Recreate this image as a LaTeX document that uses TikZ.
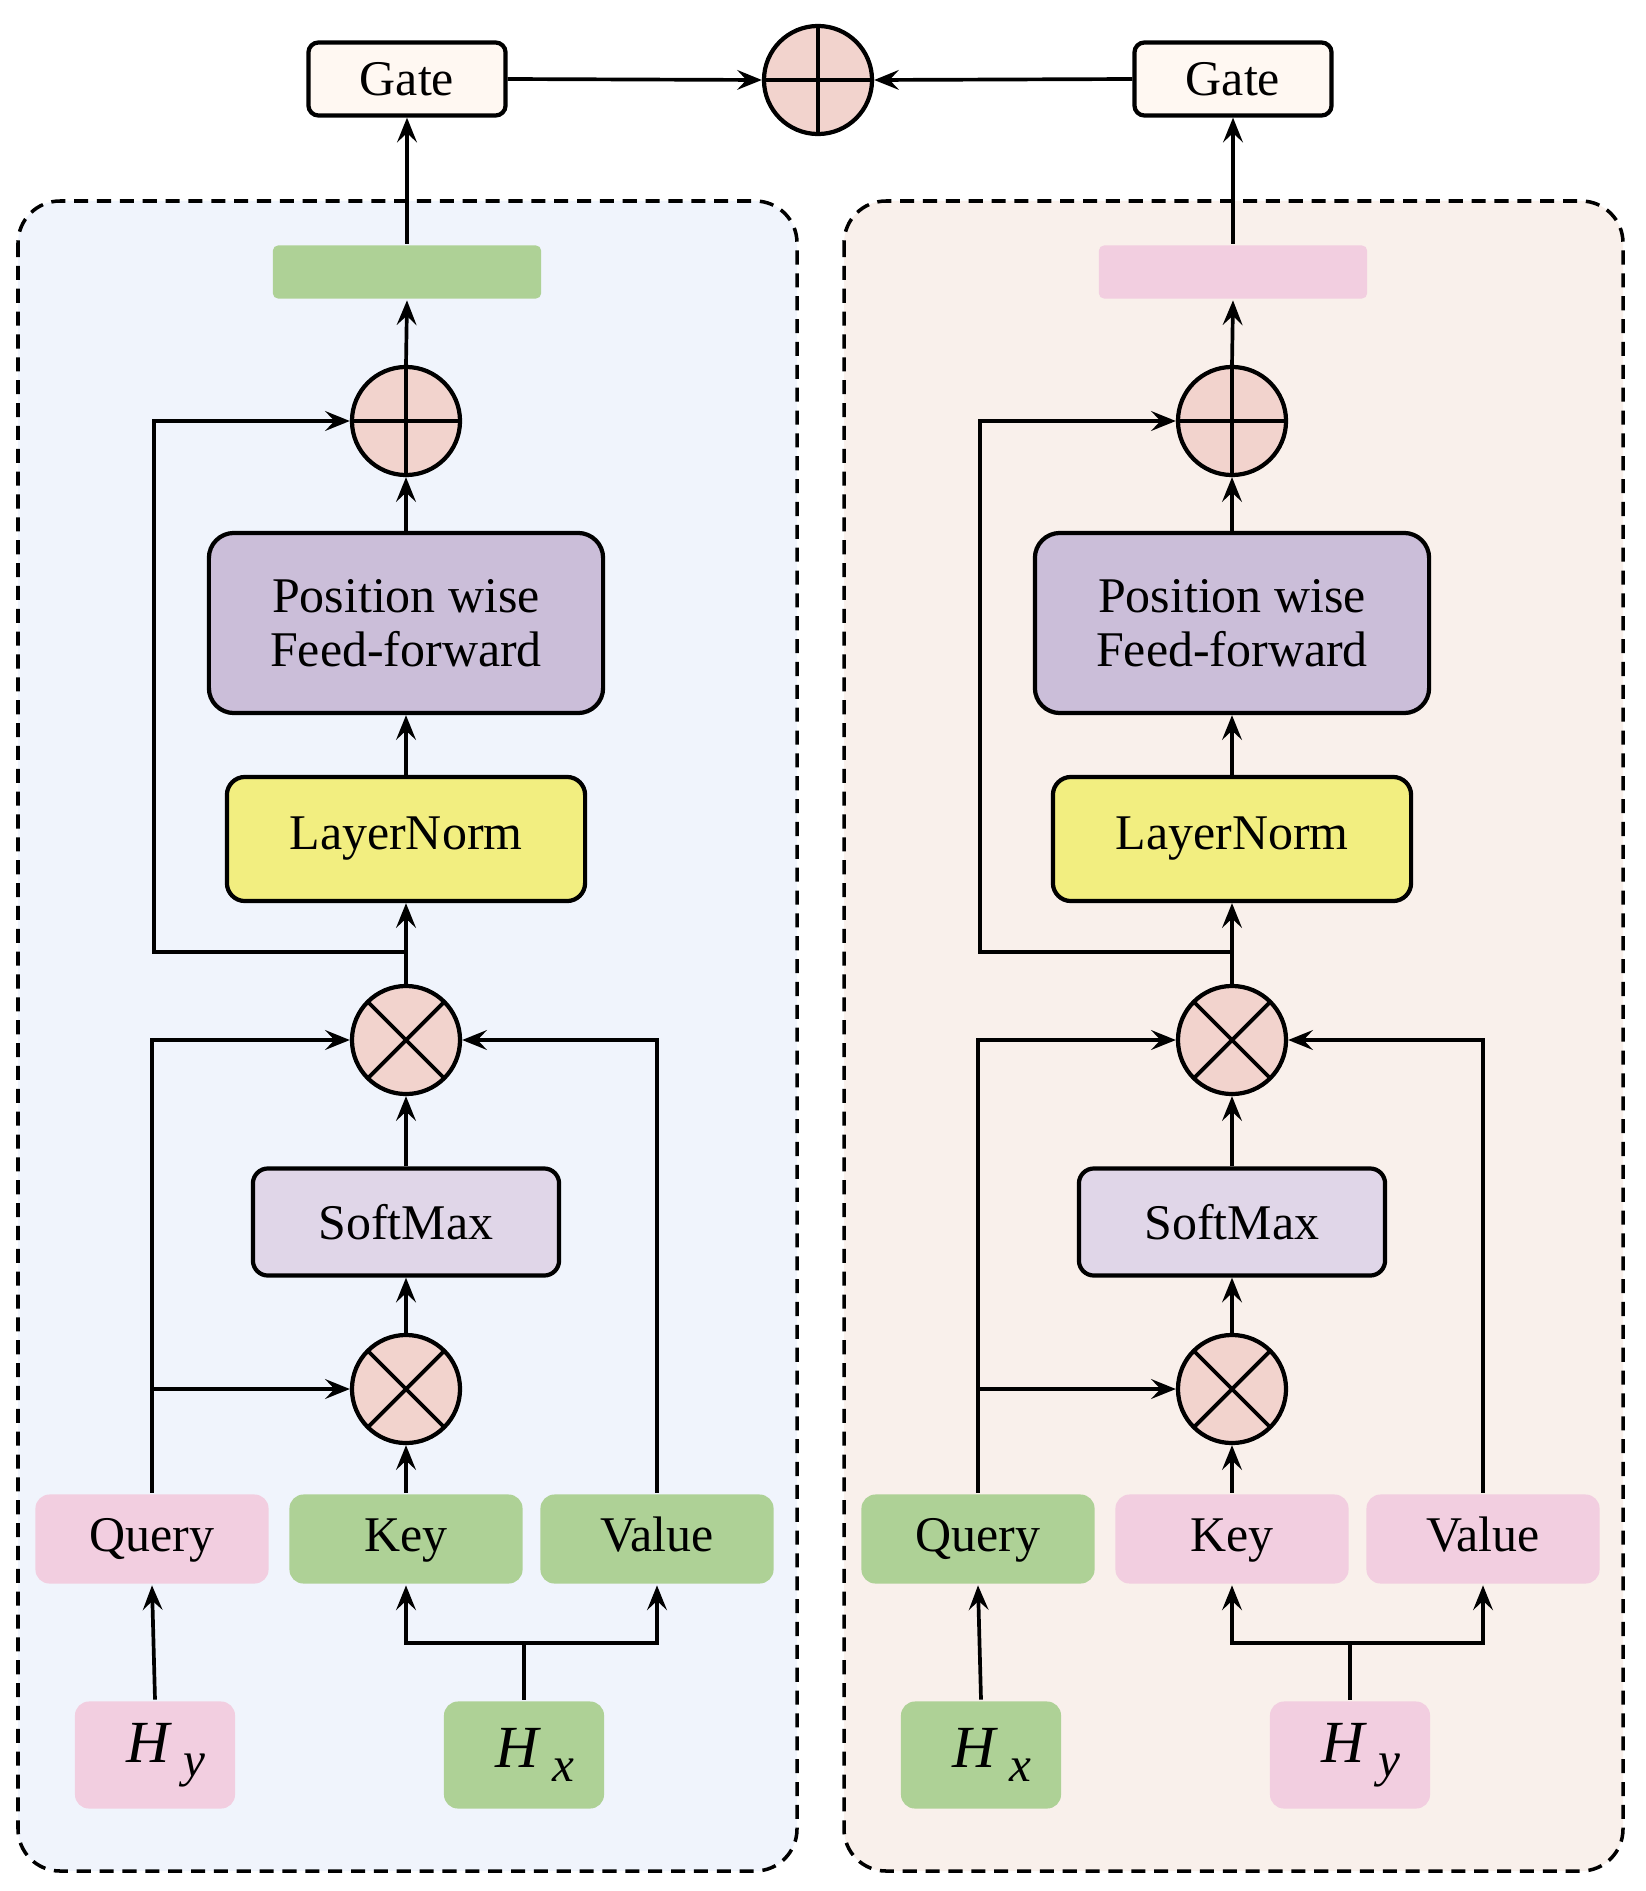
\documentclass[tikz,border=0pt]{standalone}
\usepackage{fontspec}
\setmainfont{Liberation Serif}
\usetikzlibrary{arrows.meta}
\definecolor{bgblue}{HTML}{F0F4FC}
\definecolor{bgpeach}{HTML}{F9F0EB}
\definecolor{kgreen}{HTML}{AED196}
\definecolor{qpink}{HTML}{F2CEE0}
\definecolor{fflila}{HTML}{CBBED9}
\definecolor{smlila}{HTML}{E0D6E8}
\definecolor{lnyellow}{HTML}{F2EE80}
\definecolor{opred}{HTML}{F2D3CD}
\definecolor{gatecream}{HTML}{FFF8F2}
\newcommand{\hsub}[1]{\kern6pt H\kern4pt\raisebox{-4pt}{\fontsize{14}{14}\selectfont #1}}
\tikzset{
  block/.style = {align=center, inner sep=0pt, text centered,
    font=\fontsize{14.2}{15.4}\selectfont},
  box_n/.style = {block, draw=black, line width=1.2pt},% bloc encadre
  gate_n/.style = {box_n, fill=gatecream, minimum width=1.97cm,
    minimum height=0.73cm, rounded corners=0.1cm},
  ff_n/.style = {box_n, fill=fflila, minimum width=3.94cm,
    minimum height=1.8cm, rounded corners=0.25cm},
  ln_n/.style = {box_n, fill=lnyellow, minimum width=3.58cm,
    minimum height=1.24cm, rounded corners=0.18cm},
  sm_n/.style = {box_n, fill=smlila, minimum width=3.06cm,
    minimum height=1.07cm, rounded corners=0.15cm},
  qkv_n/.style = {block, minimum width=2.33cm, minimum height=0.89cm,
    rounded corners=0.14cm, text height=10pt, text depth=3pt},% entrees Q K V
  h_n/.style = {block, minimum width=1.6cm, minimum height=1.07cm,
    rounded corners=0.14cm, font=\fontsize{17}{20}\selectfont\itshape},
  bar_n/.style = {block, minimum width=2.68cm, minimum height=0.53cm,
    rounded corners=0.05cm},
  op_n/.style = {circle, draw=black, line width=1.2pt, fill=opred,
    minimum size=1.08cm, inner sep=0pt},
  add_n/.style = {op_n, path picture={\draw[-, line width=1.1pt]
    (path picture bounding box.north) -- (path picture bounding box.south)
    (path picture bounding box.west) -- (path picture bounding box.east);}},
  mul_n/.style = {op_n, path picture={\draw[-, line width=1.1pt]
    (path picture bounding box.north west) -- (path picture bounding box.south east)
    (path picture bounding box.north east) -- (path picture bounding box.south west);}},
}
\begin{document}
\begin{tikzpicture}[->,>={Stealth[length=7pt,width=5.6pt,inset=2.6pt]},
  x=0.01cm,y=-0.01cm,line width=1.05pt]
\useasboundingbox (0,0) rectangle (1645,1891);

\foreach \p/\dx/\ca/\cb/\bg/\sa/\sb in {L/0/qpink/kgreen/bgblue/y/x,
    R/826/kgreen/qpink/bgpeach/x/y}{
  % cadre
  \draw[-, dash pattern=on 4pt off 2.5pt, line width=1pt, rounded corners=0.42cm,
    fill=\bg] (18+\dx,201) rectangle (797+\dx,1871);
  \node[gate_n] (\p-gate) at (407+\dx,79) {Gate};
  \node[bar_n, fill=\cb] (\p-bar) at (407+\dx,272) {};
  \node[add_n] (\p-add) at (406+\dx,421) {};
  \node[ff_n] (\p-ff) at (406+\dx,623) {Position wise\\Feed-forward};
  \node[ln_n] (\p-ln) at (406+\dx,839) {LayerNorm};
  \node[mul_n] (\p-m2) at (406+\dx,1040) {};
  \node[sm_n] (\p-sm) at (406+\dx,1222) {SoftMax};
  \node[mul_n] (\p-m1) at (406+\dx,1389) {};
  \node[qkv_n, fill=\ca] (\p-q) at (152+\dx,1539) {Query};
  \node[qkv_n, fill=\cb] (\p-k) at (406+\dx,1539) {Key};
  \node[qkv_n, fill=\cb] (\p-v) at (657+\dx,1539) {Value};
  \node[h_n, fill=\ca] (\p-ha) at (155+\dx,1755) {\hsub{\sa}};
  \node[h_n, fill=\cb] (\p-hb) at (524+\dx,1755) {\hsub{\sb}};
  \coordinate (\p-sk) at (154+\dx,952);
  \coordinate (\p-sp) at (524+\dx,1643);

  \draw (\p-ha.north) -- (\p-q.south);
  \draw[-] (\p-hb.north) -- (\p-sp);
  \draw (\p-sp) -| (\p-k.south);
  \draw (\p-sp) -| (\p-v.south);
  \draw (\p-k.north) -- (\p-m1.south);
  \draw (\p-q |- \p-m1) -- (\p-m1.west);
  \draw (\p-q.north) |- (\p-m2.west);
  \draw (\p-v.north) |- (\p-m2.east);
  \draw (\p-m1.north) -- (\p-sm.south);
  \draw (\p-sm.north) -- (\p-m2.south);
  \draw (\p-m2.north) -- (\p-ln.south);
  \draw (\p-m2 |- \p-sk) -- (\p-sk) |- (\p-add.west);
  \draw (\p-ln.north) -- (\p-ff.south);
  \draw (\p-ff.north) -- (\p-add.south);
  \draw (\p-add.north) -- (\p-bar.south);
  \draw (\p-bar.north) -- (\p-gate.south);
}

\node[add_n] (sum) at (818,80) {};
\draw (L-gate.east) -- (sum.west);
\draw (R-gate.west) -- (sum.east);
\end{tikzpicture}
\end{document}
